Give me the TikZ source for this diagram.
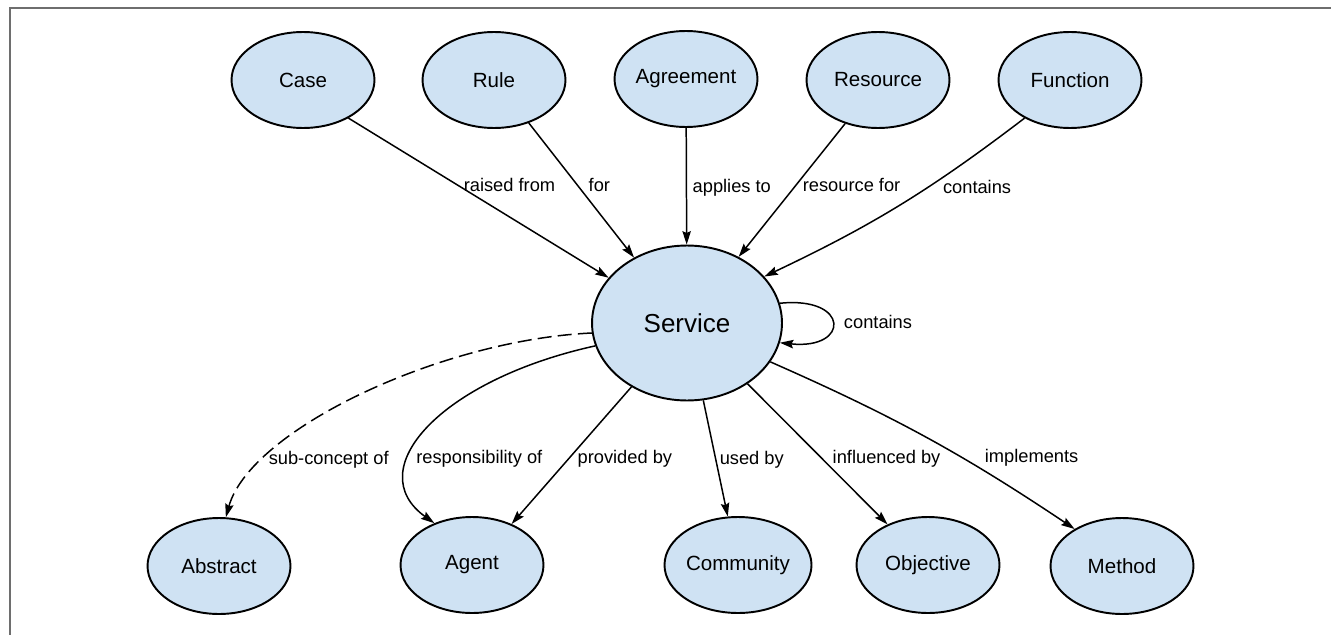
\documentclass[tikz,border=0pt]{standalone}
\usepackage{fontspec}
\setmainfont{Liberation Sans}
\usepackage{xcolor}
\usetikzlibrary{arrows.meta,shapes.geometric}
\definecolor{conceptblue}{HTML}{CFE2F3}
\definecolor{framegray}{HTML}{6E6E6E}

\begin{document}
\begin{tikzpicture}[x=0.02cm,y=-0.02cm,
  concept/.style={ellipse,draw=black,line width=1.1pt,fill=conceptblue,minimum width=2.86cm,minimum height=1.92cm,inner sep=0pt,font=\fontsize{11.7}{14}\selectfont},
  core/.style={concept,minimum width=3.8cm,minimum height=3.1cm,font=\fontsize{14.8}{18}\selectfont},
  rel/.style={line width=0.85pt,-{Stealth[length=0.27cm,width=0.17cm,inset=0.04cm]}},
  lbl/.style={font=\fontsize{10.4}{12}\selectfont,anchor=west,inner sep=0pt,text height=1.5ex,text depth=.25ex}]
\useasboundingbox (0,0) rectangle (1331,635);
\draw[framegray,line width=0.04cm] (10,635) -- (10,8.5) -- (1331,8.5);
\node[concept] (case) at (303,80) {Case};
\node[concept] (rule) at (494,80) {Rule};
\node[concept] (agreement) at (686,79) {Agreement};
\node[concept] (resource) at (878,80) {Resource};
\node[concept] (function) at (1070,80) {Function};
\node[core] (service) at (687,323) {Service};
\node[concept] (abstract) at (219,566) {Abstract};
\node[concept] (agent) at (472,565) {Agent};
\node[concept] (community) at (738,565) {Community};
\node[concept] (objective) at (928,565) {Objective};
\node[concept] (method) at (1122,566) {Method};
\draw[rel] (case.-40) -- node[lbl,pos=.426,xshift=0.075cm] {raised from} (service.150);
\draw[rel] (rule.-51) -- node[lbl,pos=.467,xshift=0.2cm] {for} (service.129);
\draw[rel] (agreement) -- node[lbl,pos=.5,xshift=0.11cm] {applies to} (service);
\draw[rel] (resource.233) -- node[lbl,pos=.468,xshift=0.136cm] {resource for} (service.52);
\draw[rel] (function.220) to[bend left=6] node[lbl,pos=.38,xshift=0.29cm] {contains} (service.31);
\draw[rel] (service.12) .. controls (850,296) and (850,350) .. node[lbl,pos=.5,xshift=0.215cm] {contains} (service.-12);
\draw[rel,dash pattern=on 8pt off 3.5pt] (service.186) .. controls (440,340) and (250,430) .. node[lbl,pos=.775,xshift=0.06cm] {sub-concept of} (abstract.82);
\draw[rel] (service.194) .. controls (440,380) and (360,470) .. node[lbl,pos=.65,xshift=0.12cm] {responsibility of} (agent.132);
\draw[rel] (service.229) -- node[lbl,pos=.516,xshift=0.146cm] {provided by} (agent.46);
\draw[rel] (service) -- node[lbl,pos=.5,xshift=0.07cm] {used by} (community);
\draw[rel] (service) -- node[lbl,pos=.528,xshift=0.21cm] {influenced by} (objective);
\draw[rel] (service.-25) to[bend left=5] node[lbl,pos=.62,xshift=0.48cm] {implements} (method.142);
\end{tikzpicture}
\end{document}
